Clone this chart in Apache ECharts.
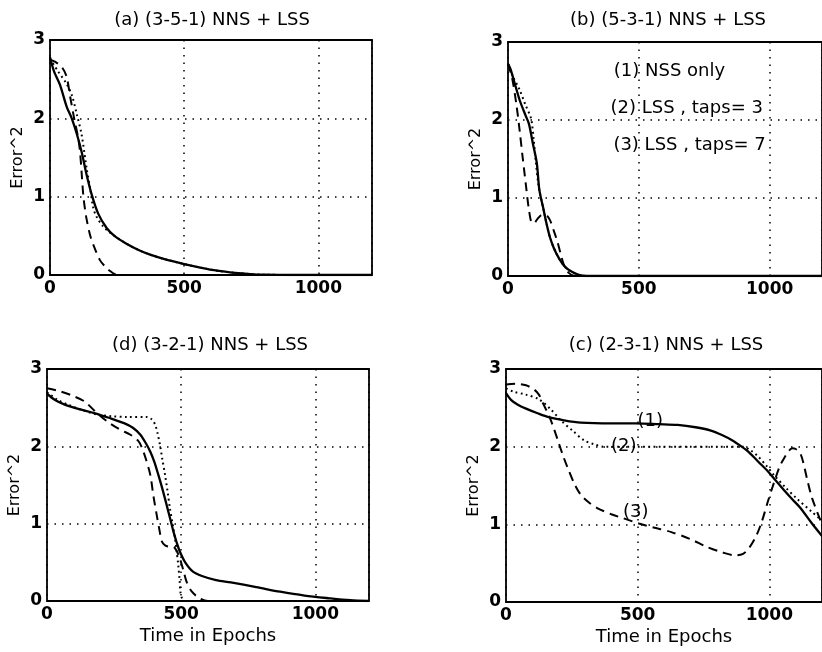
<!DOCTYPE html>
<html>
<head>
<meta charset="utf-8">
<script src="https://cdn.jsdelivr.net/npm/echarts@6/dist/echarts.min.js"></script>
<style>
html,body{margin:0;padding:0;background:#fff;}
#chart{width:822px;height:652px;}
</style>
</head>
<body>
<div id="chart"></div>
<script>
// ---------- data ----------
const panelTitles = ['(a) (3-5-1) NNS + LSS', '(b) (5-3-1) NNS + LSS', '(d) (3-2-1) NNS + LSS', '(c) (2-3-1) NNS + LSS'];
const xTicks = [0, 500, 1000];
const yTicks = [0, 1, 2, 3];
const yName = 'Error^2';
const xName = 'Time in Epochs';

// (a) (3-5-1)
const aSolid = [[0,2.78],[15,2.6],[37,2.43],[62,2.15],[81,2.0],[100,1.8],[118,1.57],[135,1.3],[156,1.02],[180,0.78],[211,0.6],[240,0.5],[280,0.41],[330,0.32],[373,0.26],[430,0.2],[500,0.14],[560,0.095],[623,0.055],[690,0.027],[746,0.012],[800,0.004],[900,0],[1200,0]];
const aDot = [[0,2.76],[30,2.6],[60,2.45],[81,2.3],[100,2.05],[118,1.79],[136,1.37],[150,1.1],[161,0.86],[174,0.74],[198,0.62],[224,0.54],[280,0.41],[330,0.32],[373,0.26],[430,0.2],[500,0.14],[560,0.095],[623,0.055],[690,0.027],[746,0.012],[800,0.004],[900,0],[1200,0]];
const aDash = [[0,2.75],[20,2.72],[45,2.65],[62,2.53],[75,2.28],[90,2.0],[105,1.75],[112,1.57],[118,1.3],[124,1.02],[130,0.85],[136,0.72],[150,0.5],[162,0.38],[186,0.19],[205,0.11],[224,0.05],[242,0.01],[260,0],[1200,0]];

// (b) (5-3-1)
const bSolid = [[0,2.72],[10,2.65],[23,2.5],[45,2.25],[67,2.06],[80,1.95],[95,1.7],[110,1.45],[120,1.1],[134,0.88],[148,0.66],[160,0.5],[175,0.36],[196,0.22],[220,0.11],[246,0.05],[270,0.015],[300,0],[1200,0]];
const bDot = [[0,2.72],[20,2.55],[44,2.39],[66,2.2],[88,2.02],[98,1.75],[106,1.47],[115,1.2],[122,1.06],[134,0.88],[148,0.66],[160,0.5],[175,0.36],[196,0.22],[220,0.11],[246,0.05],[270,0.015],[300,0],[1200,0]];
const bDash = [[0,2.72],[15,2.55],[32,2.2],[45,1.85],[55,1.55],[69,1.15],[80,0.85],[92,0.68],[100,0.68],[112,0.73],[128,0.78],[145,0.78],[160,0.72],[175,0.58],[188,0.45],[200,0.3],[215,0.13],[232,0.04],[255,0],[1200,0]];
const bNotes = [[617,2.63,'(1) NSS only'],[683,2.15,'(2) LSS , taps= 3'],[694,1.68,'(3) LSS , taps= 7']];

// (d) (3-2-1)
const dSolid = [[0,2.68],[30,2.6],[66,2.54],[120,2.48],[176,2.43],[230,2.37],[287,2.3],[320,2.24],[348,2.15],[370,2.03],[385,1.93],[400,1.8],[415,1.63],[430,1.45],[446,1.24],[460,1.05],[471,0.9],[483,0.76],[495,0.64],[515,0.5],[544,0.38],[580,0.32],[630,0.27],[685,0.24],[780,0.18],[869,0.12],[960,0.07],[1052,0.035],[1130,0.01],[1200,0]];
const dDot = [[0,2.7],[40,2.6],[78,2.54],[130,2.47],[189,2.41],[240,2.39],[299,2.38],[372,2.38],[390,2.35],[403,2.28],[412,2.17],[421,2.02],[430,1.83],[440,1.63],[450,1.4],[458,1.2],[468,1.0],[477,0.81],[484,0.62],[489,0.47],[494,0.28],[497,0.12],[505,0.02],[515,0],[1200,0]];
const dDash = [[0,2.75],[40,2.72],[91,2.66],[140,2.58],[180,2.45],[225,2.32],[270,2.22],[311,2.15],[340,2.07],[354,1.98],[370,1.82],[385,1.63],[397,1.35],[409,1.11],[420,0.9],[428,0.77],[440,0.72],[460,0.7],[471,0.7],[483,0.65],[495,0.55],[508,0.4],[520,0.25],[540,0.12],[569,0.035],[600,0],[1200,0]];

// (c) (2-3-1)
const cSolid = [[0,2.69],[20,2.6],[45,2.54],[76,2.49],[120,2.43],[162,2.38],[220,2.34],[284,2.31],[400,2.3],[493,2.3],[580,2.29],[652,2.28],[720,2.25],[775,2.21],[820,2.15],[860,2.08],[895,2.0],[922,1.93],[960,1.8],[995,1.68],[1025,1.56],[1056,1.44],[1088,1.32],[1118,1.21],[1162,1.01],[1200,0.85]];
const cDot = [[0,2.75],[27,2.71],[75,2.67],[125,2.61],[170,2.48],[211,2.33],[255,2.2],[297,2.08],[335,2.03],[370,2.0],[450,2.0],[590,2.0],[700,2.0],[800,2.0],[897,2.0],[930,1.95],[958,1.87],[990,1.75],[1019,1.63],[1060,1.48],[1105,1.33],[1162,1.16],[1200,1.05]];
const cDash = [[0,2.8],[40,2.81],[76,2.79],[105,2.74],[125,2.67],[140,2.56],[162,2.41],[180,2.25],[199,2.06],[217,1.88],[235,1.72],[260,1.52],[284,1.38],[315,1.28],[346,1.21],[400,1.13],[444,1.08],[505,1.01],[560,0.96],[628,0.9],[700,0.81],[762,0.71],[820,0.64],[872,0.6],[900,0.62],[922,0.69],[950,0.85],[971,1.03],[995,1.3],[1019,1.55],[1040,1.75],[1056,1.85],[1075,1.95],[1087,1.98],[1100,1.97],[1118,1.91],[1130,1.78],[1143,1.59],[1162,1.34],[1200,1.0]];
const cNotes = [[548,2.32,'(1)'],[447,2.0,'(2)'],[493,1.16,'(3)']];

// ---------- chart ----------
const FONT = 'DejaVu Sans';
const grids = [
  {left:50, top:40, width:322, height:235},
  {left:508, top:42, width:324, height:234},
  {left:47, top:369, width:322, height:232},
  {left:506, top:369, width:324, height:233}
];
const titlePos = [[212,20],[668,20],[210,345],[666,345]];

const chart = echarts.init(document.getElementById('chart'), null, {renderer:'canvas'});

const gridOpts = grids.map(g => Object.assign({show:true, borderColor:'#000', borderWidth:1.8, backgroundColor:'#fff', containLabel:false}, g));

const xAxes = grids.map((g,i) => ({
  type:'value', gridIndex:i, min:0, max:1200, interval:500,
  axisLine:{show:false}, axisTick:{show:false},
  axisLabel:{color:'#000', fontFamily:FONT, fontSize:17, fontWeight:'bold', margin:5, showMaxLabel:false,
    formatter: v => xTicks.indexOf(v) >= 0 ? String(v) : ''},
  splitLine:{show:true, lineStyle:{color:'#000', width:1.5, type:[1.5,6]}},
  name: (i >= 2) ? xName : '', nameLocation:'middle', nameGap:26,
  nameTextStyle:{color:'#000', fontFamily:FONT, fontSize:18}
}));
const yAxes = grids.map((g,i) => ({
  type:'value', gridIndex:i, min:0, max:3, interval:1,
  axisLine:{show:false}, axisTick:{show:false},
  axisLabel:{color:'#000', fontFamily:FONT, fontSize:17, fontWeight:'bold', margin:5,
    formatter: v => yTicks.indexOf(v) >= 0 ? String(v) : ''},
  splitLine:{show:true, lineStyle:{color:'#000', width:1.5, type:[1.5,6]}},
  name: yName, nameLocation:'middle', nameGap:24, nameRotate:90,
  nameTextStyle:{color:'#000', fontFamily:FONT, fontSize:16}
}));

function line(data, i, kind){
  const ls = {color:'#000', width: kind==='solid' ? 2.3 : 2};
  if (kind === 'dash') ls.type = [9,6];
  if (kind === 'dot') ls.type = [1.8,3.4];
  return {type:'line', xAxisIndex:i, yAxisIndex:i, data:data, showSymbol:false, symbol:'none',
    smooth:0.3, lineStyle:ls, silent:true, animation:false, z:3};
}
function notes(data, i, size){
  return {type:'scatter', xAxisIndex:i, yAxisIndex:i, data:data, symbolSize:0,
    itemStyle:{color:'#000', opacity:1}, silent:true, animation:false, z:5,
    label:{show:true, position:[0,0], align:'center', verticalAlign:'middle',
      color:'#000', opacity:1,
      fontFamily:FONT, fontSize:size, formatter: p => p.data[2]}};
}

const series = [
  line(aSolid,0,'solid'), line(aDot,0,'dot'), line(aDash,0,'dash'),
  line(bSolid,1,'solid'), line(bDot,1,'dot'), line(bDash,1,'dash'), notes(bNotes,1,18),
  line(dSolid,2,'solid'), line(dDot,2,'dot'), line(dDash,2,'dash'),
  line(cSolid,3,'solid'), line(cDot,3,'dot'), line(cDash,3,'dash'), notes(cNotes,3,18)
];

const graphic = panelTitles.map((t,i) => ({
  type:'text', x:titlePos[i][0], y:titlePos[i][1], silent:true,
  style:{text:t, align:'center', verticalAlign:'middle', textAlign:'center', textVerticalAlign:'middle',
    fontFamily:FONT, fontSize:18, fill:'#000'}
}));

chart.setOption({
  animation:false,
  backgroundColor:'#fff',
  grid:gridOpts,
  xAxis:xAxes,
  yAxis:yAxes,
  series:series,
  graphic:graphic
});
</script>
</body>
</html>
